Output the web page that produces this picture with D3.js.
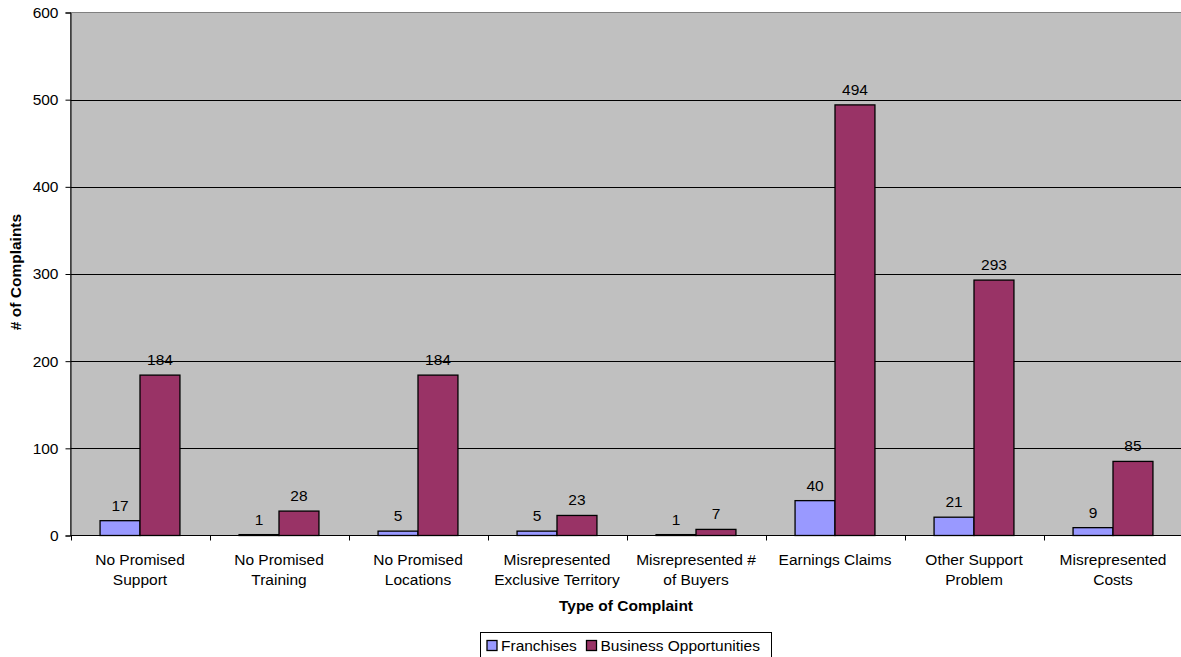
<!DOCTYPE html>
<html>
<head>
<meta charset="utf-8">
<script src="https://cdn.jsdelivr.net/npm/d3@7"></script>
<style>
  html, body { margin: 0; padding: 0; background: #fff; }
  svg { display: block; font-family: "Liberation Sans", Arial, sans-serif; }
</style>
</head>
<body>
<svg id="chart" width="1181" height="657"></svg>
<script>
// Complaint categories (two-line labels)
const categories = [
  ["No Promised", "Support"],
  ["No Promised", "Training"],
  ["No Promised", "Locations"],
  ["Misrepresented", "Exclusive Territory"],
  ["Misrepresented #", "of Buyers"],
  ["Earnings Claims"],
  ["Other Support", "Problem"],
  ["Misrepresented", "Costs"]
];
const seriesNames = ["Franchises", "Business Opportunities"];
const franchises = [17, 1, 5, 5, 1, 40, 21, 9];
const businessOpportunities = [184, 28, 184, 23, 7, 494, 293, 85];
const yTicks = [0, 100, 200, 300, 400, 500, 600];
const colors = ["#9999FF", "#993366"];

const FS = 15.5;
const svg = d3.select("#chart");
const plotLeft = 70.5, plotRight = 1182.5, plotTop = 12.5, plotBottom = 535.5;

const x0 = d3.scaleBand().domain(d3.range(categories.length)).range([plotLeft, plotRight]).paddingInner(0).paddingOuter(0);
const x1 = d3.scaleBand().domain([0, 1]).range([0, x0.bandwidth()]).paddingOuter(0.74).paddingInner(0);
const y = d3.scaleLinear().domain([0, 600]).range([plotBottom, plotTop]);

// plot background
svg.append("rect").attr("x", plotLeft).attr("y", plotTop).attr("width", plotRight - plotLeft).attr("height", plotBottom - plotTop)
  .attr("fill", "#C0C0C0").attr("stroke", "#808080").attr("stroke-width", 1);

// gridlines
svg.append("g").selectAll("line").data(yTicks.filter(d => d > 0 && d < 600)).join("line")
  .attr("x1", plotLeft).attr("x2", plotRight)
  .attr("y1", d => Math.round(y(d)) + 0.5).attr("y2", d => Math.round(y(d)) + 0.5)
  .attr("stroke", "#000").attr("stroke-width", 1);

// bars
const data = categories.map((c, i) => ({ i, vals: [franchises[i], businessOpportunities[i]] }));
const groups = svg.append("g").selectAll("g").data(data).join("g")
  .attr("transform", d => `translate(${x0(d.i)},0)`);
groups.selectAll("rect").data(d => d.vals.map((v, s) => ({ v, s }))).join("rect")
  .attr("x", d => x1(d.s)).attr("width", x1.bandwidth())
  .attr("y", d => y(d.v)).attr("height", d => y(0) - y(d.v))
  .attr("fill", d => colors[d.s]).attr("stroke", "#000").attr("stroke-width", 1.3);
groups.selectAll("text").data(d => d.vals.map((v, s) => ({ v, s }))).join("text")
  .attr("x", d => x1(d.s) + x1.bandwidth() / 2).attr("y", d => y(d.v) - 10)
  .attr("text-anchor", "middle").attr("font-size", FS).attr("fill", "#000")
  .text(d => d.v);

// y axis
const yAxis = svg.append("g").attr("transform", `translate(${plotLeft},0)`)
  .call(d3.axisLeft(y).tickValues(yTicks).tickSize(5).tickPadding(7));
yAxis.select(".domain").attr("stroke", "#000");
yAxis.selectAll(".tick line").attr("stroke", "#000");
yAxis.selectAll("text").attr("font-size", FS).attr("fill", "#000").attr("font-family", "Liberation Sans, Arial, sans-serif");

// x axis
const xAxis = svg.append("g").attr("transform", `translate(0,${plotBottom})`);
xAxis.append("line").attr("x1", plotLeft).attr("x2", plotRight).attr("stroke", "#000");
xAxis.selectAll(".tk").data(d3.range(categories.length)).join("line").attr("class", "tk")
  .attr("x1", d => Math.round(x0(d)) + 0.5).attr("x2", d => Math.round(x0(d)) + 0.5)
  .attr("y1", 0).attr("y2", 5).attr("stroke", "#000");
const labels = xAxis.selectAll(".lbl").data(categories).join("text").attr("class", "lbl")
  .attr("text-anchor", "middle").attr("font-size", FS).attr("fill", "#000")
  .attr("transform", (d, i) => `translate(${x0(i) + x0.bandwidth() / 2},0)`);
labels.selectAll("tspan").data(d => d).join("tspan")
  .attr("x", 0).attr("y", (d, j) => 29 + j * 20).text(d => d);

// axis titles
svg.append("text").attr("x", 626).attr("y", 611).attr("text-anchor", "middle")
  .attr("font-size", FS).attr("font-weight", "bold").text("Type of Complaint");
svg.append("text").attr("transform", "translate(21,272) rotate(-90)").attr("text-anchor", "middle")
  .attr("font-size", FS).attr("font-weight", "bold").text("# of Complaints");

// legend
const lg = svg.append("g").attr("transform", "translate(480.5,632.5)");
lg.append("rect").attr("width", 291).attr("height", 30).attr("fill", "#fff").attr("stroke", "#000");
const items = [{ name: seriesNames[0], x: 6.5 }, { name: seriesNames[1], x: 106 }];
items.forEach((it, k) => {
  lg.append("rect").attr("x", it.x).attr("y", 8).attr("width", 10).attr("height", 10)
    .attr("fill", colors[k]).attr("stroke", "#000").attr("stroke-width", 1.3);
  lg.append("text").attr("x", it.x + 14).attr("y", 18.5).attr("font-size", FS).text(it.name);
});
</script>
</body>
</html>
